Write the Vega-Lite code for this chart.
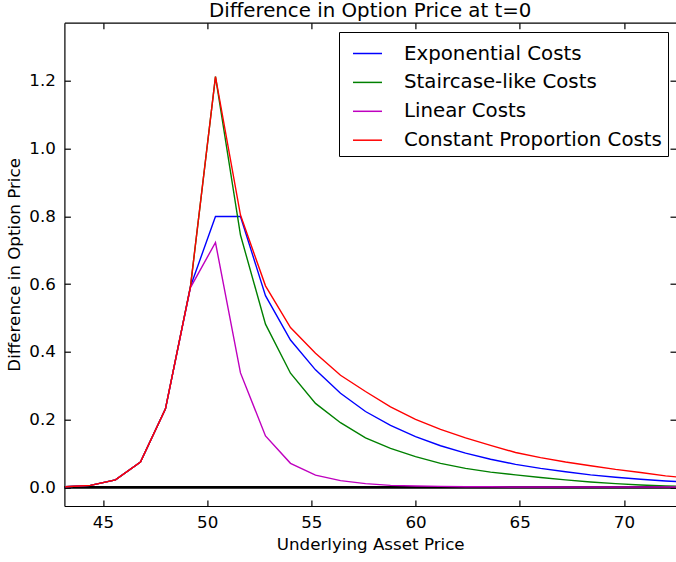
{
  "$schema": "https://vega.github.io/schema/vega-lite/v6.json",
  "autosize": "none",
  "width": 611.6,
  "height": 483.3,
  "padding": {"left": 64.4, "top": 22.7, "right": 0, "bottom": 56},
  "title": {"text": "Difference in Option Price at t=0", "font": "DejaVu Sans", "fontSize": 19.8, "fontWeight": "normal", "color": "#000", "offset": 1, "anchor": "middle"},
  "config": {
    "view": {"stroke": null},
    "axis": {"grid": false, "domainColor": "#000", "domainWidth": 1.2, "tickColor": "#000", "tickWidth": 1.2, "tickSize": -6, "labelFont": "DejaVu Sans", "labelFontSize": 16.7, "labelColor": "#000", "titleFont": "DejaVu Sans", "titleFontSize": 16.7, "titleFontWeight": "normal", "titleColor": "#000"}
  },
  "data": {"values": [
    {"s":"Exponential Costs","x":43.2,"y":0.002},{"s":"Exponential Costs","x":44.4,"y":0.006},{"s":"Exponential Costs","x":45.6,"y":0.022},{"s":"Exponential Costs","x":46.8,"y":0.075},{"s":"Exponential Costs","x":48.0,"y":0.232},{"s":"Exponential Costs","x":49.2,"y":0.593},{"s":"Exponential Costs","x":50.4,"y":0.800},{"s":"Exponential Costs","x":51.6,"y":0.800},{"s":"Exponential Costs","x":52.8,"y":0.566},{"s":"Exponential Costs","x":54.0,"y":0.435},{"s":"Exponential Costs","x":55.2,"y":0.347},{"s":"Exponential Costs","x":56.4,"y":0.278},{"s":"Exponential Costs","x":57.6,"y":0.224},{"s":"Exponential Costs","x":58.8,"y":0.183},{"s":"Exponential Costs","x":60.0,"y":0.150},{"s":"Exponential Costs","x":61.2,"y":0.123},{"s":"Exponential Costs","x":62.4,"y":0.101},{"s":"Exponential Costs","x":63.6,"y":0.083},{"s":"Exponential Costs","x":64.8,"y":0.068},{"s":"Exponential Costs","x":66.0,"y":0.056},{"s":"Exponential Costs","x":67.2,"y":0.046},{"s":"Exponential Costs","x":68.4,"y":0.037},{"s":"Exponential Costs","x":69.6,"y":0.030},{"s":"Exponential Costs","x":70.8,"y":0.024},{"s":"Exponential Costs","x":72.0,"y":0.019},{"s":"Exponential Costs","x":73.2,"y":0.015},
    {"s":"Staircase-like Costs","x":43.2,"y":0.002},{"s":"Staircase-like Costs","x":44.4,"y":0.006},{"s":"Staircase-like Costs","x":45.6,"y":0.022},{"s":"Staircase-like Costs","x":46.8,"y":0.075},{"s":"Staircase-like Costs","x":48.0,"y":0.232},{"s":"Staircase-like Costs","x":49.2,"y":0.593},{"s":"Staircase-like Costs","x":50.4,"y":1.213},{"s":"Staircase-like Costs","x":51.6,"y":0.745},{"s":"Staircase-like Costs","x":52.8,"y":0.482},{"s":"Staircase-like Costs","x":54.0,"y":0.337},{"s":"Staircase-like Costs","x":55.2,"y":0.248},{"s":"Staircase-like Costs","x":56.4,"y":0.191},{"s":"Staircase-like Costs","x":57.6,"y":0.146},{"s":"Staircase-like Costs","x":58.8,"y":0.115},{"s":"Staircase-like Costs","x":60.0,"y":0.091},{"s":"Staircase-like Costs","x":61.2,"y":0.071},{"s":"Staircase-like Costs","x":62.4,"y":0.056},{"s":"Staircase-like Costs","x":63.6,"y":0.045},{"s":"Staircase-like Costs","x":64.8,"y":0.037},{"s":"Staircase-like Costs","x":66.0,"y":0.029},{"s":"Staircase-like Costs","x":67.2,"y":0.022},{"s":"Staircase-like Costs","x":68.4,"y":0.016},{"s":"Staircase-like Costs","x":69.6,"y":0.011},{"s":"Staircase-like Costs","x":70.8,"y":0.007},{"s":"Staircase-like Costs","x":72.0,"y":0.004},{"s":"Staircase-like Costs","x":73.2,"y":0.002},
    {"s":"Linear Costs","x":43.2,"y":0.002},{"s":"Linear Costs","x":44.4,"y":0.006},{"s":"Linear Costs","x":45.6,"y":0.022},{"s":"Linear Costs","x":46.8,"y":0.075},{"s":"Linear Costs","x":48.0,"y":0.232},{"s":"Linear Costs","x":49.2,"y":0.590},{"s":"Linear Costs","x":50.4,"y":0.723},{"s":"Linear Costs","x":51.6,"y":0.338},{"s":"Linear Costs","x":52.8,"y":0.152},{"s":"Linear Costs","x":54.0,"y":0.071},{"s":"Linear Costs","x":55.2,"y":0.036},{"s":"Linear Costs","x":56.4,"y":0.020},{"s":"Linear Costs","x":57.6,"y":0.011},{"s":"Linear Costs","x":58.8,"y":0.006},{"s":"Linear Costs","x":60.0,"y":0.004},{"s":"Linear Costs","x":61.2,"y":0.003},{"s":"Linear Costs","x":62.4,"y":0.002},{"s":"Linear Costs","x":63.6,"y":0.002},{"s":"Linear Costs","x":64.8,"y":0.001},{"s":"Linear Costs","x":66.0,"y":0.001},{"s":"Linear Costs","x":67.2,"y":0.001},{"s":"Linear Costs","x":68.4,"y":0.001},{"s":"Linear Costs","x":69.6,"y":0.001},{"s":"Linear Costs","x":70.8,"y":0.001},{"s":"Linear Costs","x":72.0,"y":0.001},{"s":"Linear Costs","x":73.2,"y":0.001},
    {"s":"Constant Proportion Costs","x":43.2,"y":0.002},{"s":"Constant Proportion Costs","x":44.4,"y":0.006},{"s":"Constant Proportion Costs","x":45.6,"y":0.022},{"s":"Constant Proportion Costs","x":46.8,"y":0.075},{"s":"Constant Proportion Costs","x":48.0,"y":0.232},{"s":"Constant Proportion Costs","x":49.2,"y":0.593},{"s":"Constant Proportion Costs","x":50.4,"y":1.213},{"s":"Constant Proportion Costs","x":51.6,"y":0.804},{"s":"Constant Proportion Costs","x":52.8,"y":0.595},{"s":"Constant Proportion Costs","x":54.0,"y":0.472},{"s":"Constant Proportion Costs","x":55.2,"y":0.396},{"s":"Constant Proportion Costs","x":56.4,"y":0.331},{"s":"Constant Proportion Costs","x":57.6,"y":0.283},{"s":"Constant Proportion Costs","x":58.8,"y":0.238},{"s":"Constant Proportion Costs","x":60.0,"y":0.201},{"s":"Constant Proportion Costs","x":61.2,"y":0.171},{"s":"Constant Proportion Costs","x":62.4,"y":0.146},{"s":"Constant Proportion Costs","x":63.6,"y":0.124},{"s":"Constant Proportion Costs","x":64.8,"y":0.103},{"s":"Constant Proportion Costs","x":66.0,"y":0.088},{"s":"Constant Proportion Costs","x":67.2,"y":0.075},{"s":"Constant Proportion Costs","x":68.4,"y":0.064},{"s":"Constant Proportion Costs","x":69.6,"y":0.053},{"s":"Constant Proportion Costs","x":70.8,"y":0.044},{"s":"Constant Proportion Costs","x":72.0,"y":0.034},{"s":"Constant Proportion Costs","x":73.2,"y":0.027}
  ]},
  "layer": [
    {
      "data": {"values": [{"level": 0}]},
      "mark": {"type": "rule", "color": "#000", "strokeWidth": 2.8},
      "encoding": {
        "y": {"field": "level", "type": "quantitative", "scale": {"domain": [-0.055, 1.372], "nice": false, "zero": false}, "axis": null}
      }
    },
    {
      "mark": {"type": "line", "strokeWidth": 1.4, "clip": true},
      "encoding": {
        "x": {"field": "x", "type": "quantitative", "scale": {"domain": [43.15, 72.5], "nice": false, "zero": false},
              "axis": {"orient": "bottom", "values": [45, 50, 55, 60, 65, 70], "title": "Underlying Asset Price", "labelPadding": 14, "titlePadding": 6}},
        "y": {"field": "y", "type": "quantitative", "scale": {"domain": [-0.055, 1.372], "nice": false, "zero": false},
              "axis": {"orient": "left", "values": [0, 0.2, 0.4, 0.6, 0.8, 1.0, 1.2], "format": ".1f", "title": "Difference in Option Price", "labelPadding": 15, "titlePadding": 5}},
        "color": {"field": "s", "type": "nominal",
                  "scale": {"domain": ["Exponential Costs", "Staircase-like Costs", "Linear Costs", "Constant Proportion Costs"], "range": ["#0000ff", "#008000", "#bf00bf", "#ff0000"]},
                  "legend": {"orient": "none", "legendX": 274.6, "legendY": 9.3, "title": null, "symbolType": "stroke", "symbolSize": 841, "symbolStrokeWidth": 1.5, "symbolOffset": 7, "labelFont": "DejaVu Sans", "labelFontSize": 19.8, "labelColor": "#000", "labelOffset": 21, "rowPadding": 2.9, "padding": 6, "strokeColor": "#000", "fillColor": "#fff", "labelLimit": 400}}
      }
    },
    {
      "mark": {"type": "point", "opacity": 0},
      "encoding": {
        "x": {"field": "x", "type": "quantitative", "scale": {"domain": [43.15, 72.5], "nice": false, "zero": false},
              "axis": {"orient": "top", "values": [45, 50, 55, 60, 65, 70], "labels": false, "title": null}},
        "y": {"field": "y", "type": "quantitative", "scale": {"domain": [-0.055, 1.372], "nice": false, "zero": false},
              "axis": {"orient": "right", "values": [0, 0.2, 0.4, 0.6, 0.8, 1.0, 1.2], "labels": false, "title": null, "domain": false}}
      }
    }
  ]
}
